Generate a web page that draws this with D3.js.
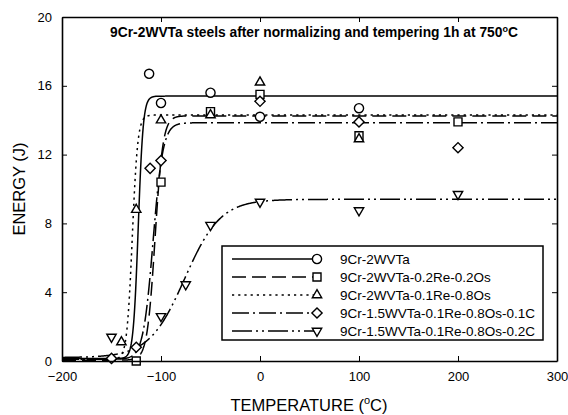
<!DOCTYPE html>
<html>
<head>
<meta charset="utf-8">
<script src="https://cdn.jsdelivr.net/npm/d3@7"></script>
<style>
  body { margin: 0; background: #fff; }
  svg { display: block; }
  text { font-family: Arial, "Liberation Sans", sans-serif; fill: #000; }
</style>
</head>
<body>
<svg id="chart" width="568" height="415"></svg>
<script>
// Charpy impact energy vs. test temperature, five alloy variants
const seriesNames = [
  "9Cr-2WVTa",
  "9Cr-2WVTa-0.2Re-0.2Os",
  "9Cr-2WVTa-0.1Re-0.8Os",
  "9Cr-1.5WVTa-0.1Re-0.8Os-0.1C",
  "9Cr-1.5WVTa-0.1Re-0.8Os-0.2C"
];

// measured points (temperature in °C, energy in J)
const temp0 = [-112, -100, -50, 0, 100];
const energy0 = [16.7, 15.0, 15.6, 14.2, 14.7];

const temp1 = [-125, -100, -50, 0, 100, 200];
const energy1 = [0.0, 10.4, 14.5, 15.5, 13.1, 13.9];

const temp2 = [-140, -125, -100, -50, 0, 100];
const energy2 = [1.1, 8.8, 14.0, 14.3, 16.2, 12.9];

const temp3 = [-150, -125, -111, -100, 0, 100, 200];
const energy3 = [0.15, 0.8, 11.2, 11.65, 15.1, 13.9, 12.4];

const temp4 = [-150, -100, -75, -50, 0, 100, 200];
const energy4 = [1.4, 2.6, 4.45, 7.9, 9.25, 8.75, 9.7];

// hyperbolic-tangent transition fits, one entry per series
const fitUpperShelf = [15.4, 14.25, 14.3, 13.85, 9.4];
const fitLowerShelf = [0.15, 0.05, 0.1, 0.1, 0.2];
const fitMidTemp    = [-123, -106, -129, -108, -76];
const fitHalfWidth  = [5, 8, 5.5, 10, 36];

const xTicks = [-200, -100, 0, 100, 200, 300];
const yTicks = [0, 4, 8, 12, 16, 20];

const temps = [temp0, temp1, temp2, temp3, temp4];
const energies = [energy0, energy1, energy2, energy3, energy4];

const lineDash = ["none", "14,6", "2.2,4", "17,4,2,4", "20,4,2,4,2,4"];
const markerShape = ["circle", "square", "triangle", "diamond", "triangleDown"];

const svg = d3.select("#chart");
const plotLeft = 62, plotRight = 557, plotTop = 17, plotBottom = 361;

const x = d3.scaleLinear().domain([-200, 300]).range([plotLeft, plotRight]);
const y = d3.scaleLinear().domain([0, 20]).range([plotBottom, plotTop]);

function markerPath(shape) {
  switch (shape) {
    case "circle": return d3.symbol(d3.symbolCircle, 66)();
    case "square": return d3.symbol(d3.symbolSquare, 64)();
    case "diamond": return d3.symbol(d3.symbolSquare, 52)();
    default: return d3.symbol(d3.symbolTriangle, 38)();
  }
}
function markerTransform(shape, px, py) {
  if (shape === "diamond") return `translate(${px},${py}) rotate(45)`;
  if (shape === "triangleDown") return `translate(${px},${py}) rotate(180)`;
  return `translate(${px},${py})`;
}

// fitted transition curves
const curveTemps = d3.range(-200, 300.01, 0.5);
const line = d3.line().x(d => x(d[0])).y(d => y(d[1]));
const plot = svg.append("g");
seriesNames.forEach((name, i) => {
  const pts = curveTemps.map(t => {
    const e = fitLowerShelf[i] + (fitUpperShelf[i] - fitLowerShelf[i]) / 2 *
      (1 + Math.tanh((t - fitMidTemp[i]) / fitHalfWidth[i]));
    return [t, e];
  });
  plot.append("path")
    .attr("d", line(pts))
    .attr("fill", "none")
    .attr("stroke", "#000")
    .attr("stroke-width", 1.5)
    .attr("stroke-dasharray", lineDash[i]);
});

// data markers
seriesNames.forEach((name, i) => {
  plot.selectAll(null)
    .data(d3.zip(temps[i], energies[i]))
    .join("path")
    .attr("d", markerPath(markerShape[i]))
    .attr("transform", d => markerTransform(markerShape[i], x(d[0]), y(d[1])))
    .attr("fill", "#fff")
    .attr("stroke", "#000")
    .attr("stroke-width", 1.4);
});

// axes: inward ticks on all four sides
const tickLen = 5;
const axisFont = "13px";
const gB = svg.append("g").attr("transform", `translate(0,${plotBottom})`)
  .call(d3.axisBottom(x).tickValues(xTicks).tickSizeInner(-tickLen).tickSizeOuter(0).tickPadding(11));
const gT = svg.append("g").attr("transform", `translate(0,${plotTop})`)
  .call(d3.axisTop(x).tickValues(xTicks).tickSizeInner(-tickLen).tickSizeOuter(0).tickFormat(""));
const gL = svg.append("g").attr("transform", `translate(${plotLeft},0)`)
  .call(d3.axisLeft(y).tickValues(yTicks).tickSizeInner(-tickLen).tickSizeOuter(0).tickPadding(10));
const gR = svg.append("g").attr("transform", `translate(${plotRight},0)`)
  .call(d3.axisRight(y).tickValues(yTicks).tickSizeInner(-tickLen).tickSizeOuter(0).tickFormat(""));
[gB, gT, gL, gR].forEach(g => {
  g.selectAll(".domain").attr("stroke", "#000").attr("stroke-width", 1.6);
  g.selectAll(".tick line").attr("stroke", "#000").attr("stroke-width", 1);
  g.selectAll(".tick text").attr("font-size", axisFont).attr("font-family", "Arial, 'Liberation Sans', sans-serif");
});

// title
const title = svg.append("text")
  .attr("x", 314).attr("y", 37)
  .attr("text-anchor", "middle")
  .attr("font-size", "13.8px")
  .attr("font-weight", "bold");
title.append("tspan").text("9Cr-2WVTa steels after normalizing and tempering 1h at 750");
title.append("tspan").attr("font-size", "9px").attr("dy", -5).text("o");
title.append("tspan").attr("dy", 5).text("C");

// axis titles
const xt = svg.append("text")
  .attr("x", 309).attr("y", 411)
  .attr("text-anchor", "middle")
  .attr("font-size", "16.5px");
xt.append("tspan").text("TEMPERATURE  (");
xt.append("tspan").attr("font-size", "11px").attr("dy", -7).text("o");
xt.append("tspan").attr("dy", 7).text("C)");

svg.append("text")
  .attr("transform", `translate(25,${(plotTop + plotBottom) / 2}) rotate(-90)`)
  .attr("text-anchor", "middle")
  .attr("font-size", "16.5px")
  .text("ENERGY  (J)");

// legend
const lg = svg.append("g");
const lgX = 222, lgY = 246, lgW = 321, lgH = 94, rowH = 18;
lg.append("rect")
  .attr("x", lgX).attr("y", lgY).attr("width", lgW).attr("height", lgH)
  .attr("fill", "#fff").attr("stroke", "#000").attr("stroke-width", 1.5);
seriesNames.forEach((name, i) => {
  const ry = lgY + 13 + i * rowH;
  lg.append("line")
    .attr("x1", lgX + 10).attr("x2", lgX + 95).attr("y1", ry).attr("y2", ry)
    .attr("stroke", "#000").attr("stroke-width", 1.5)
    .attr("stroke-dasharray", lineDash[i]);
  lg.append("path")
    .attr("d", markerPath(markerShape[i]))
    .attr("transform", markerTransform(markerShape[i], lgX + 95, ry))
    .attr("fill", "#fff").attr("stroke", "#000").attr("stroke-width", 1.4);
  lg.append("text")
    .attr("x", lgX + 118).attr("y", ry + 4.8)
    .attr("font-size", "13.5px")
    .text(name);
});
</script>
</body>
</html>
